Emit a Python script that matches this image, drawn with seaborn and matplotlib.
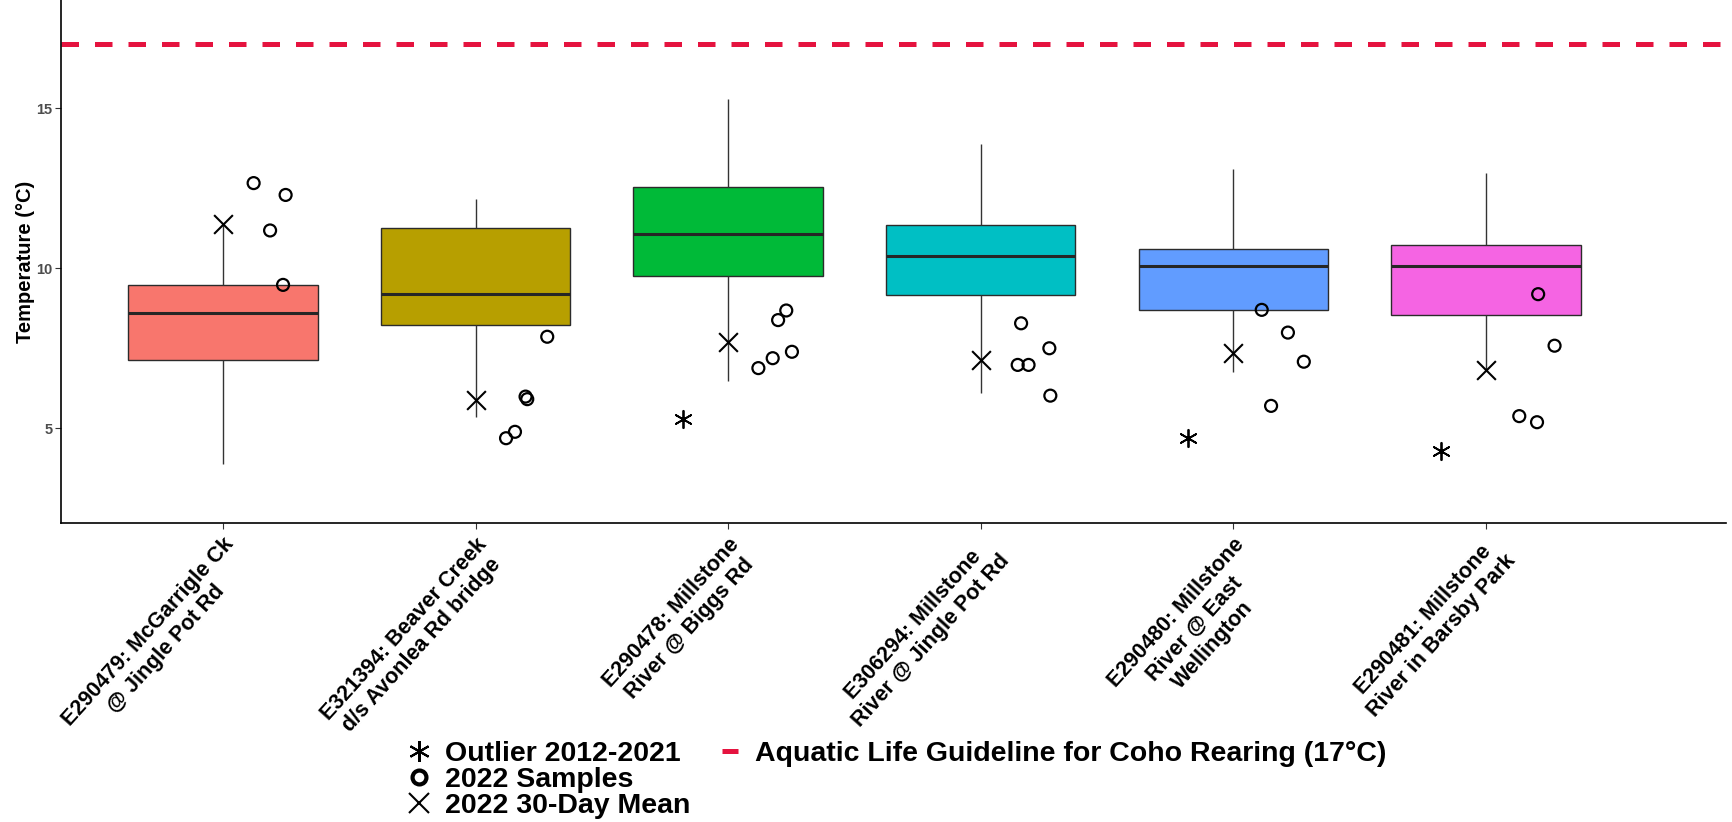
import numpy as np
import pandas as pd
import matplotlib
matplotlib.use("Agg")
import matplotlib.pyplot as plt
import matplotlib.transforms as mtransforms
from matplotlib.lines import Line2D
import seaborn as sns

# site labels (x categories)
sites = [
    "E290479: McGarrigle Ck\n@ Jingle Pot Rd",
    "E321394: Beaver Creek\nd/s Avonlea Rd bridge",
    "E290478: Millstone\nRiver @ Biggs Rd",
    "E306294: Millstone\nRiver @ Jingle Pot Rd",
    "E290480: Millstone\nRiver @ East\nWellington",
    "E290481: Millstone\nRiver in Barsby Park",
]
box_colors = ["#F8766D", "#B79F00", "#00BA38", "#00BFC4", "#619CFF", "#F564E3"]

# 2012-2021 summary (whisker low, Q1, median, Q3, whisker high)
whisk_lo = [3.9, 5.36, 6.48, 6.09, 6.77, 6.82]
q1 = [7.13, 8.23, 9.76, 9.17, 8.70, 8.53]
median = [8.59, 9.19, 11.07, 10.38, 10.07, 10.07]
q3 = [9.48, 11.27, 12.55, 11.35, 10.60, 10.73]
whisk_hi = [11.40, 12.16, 15.28, 13.88, 13.09, 12.99]

# outliers 2012-2021
outlier_site = [2, 4, 5]
outlier_temp = [5.28, 4.69, 4.30]

# 2022 30-day mean
mean_2022 = [11.37, 5.88, 7.71, 7.13, 7.36, 6.82]

# 2022 samples
sample_site = [0, 0, 0, 0,
               1, 1, 1, 1, 1,
               2, 2, 2, 2, 2,
               3, 3, 3, 3, 3,
               4, 4, 4, 4,
               5, 5, 5, 5]
sample_temp = [12.66, 12.29, 11.18, 9.48,
               7.86, 5.91, 5.99, 4.69, 4.89,
               8.38, 8.68, 7.39, 7.19, 6.88,
               8.28, 7.50, 6.98, 6.98, 6.02,
               8.70, 7.99, 7.08, 5.70,
               9.19, 7.58, 5.38, 5.19]

guideline = 17

# long-form frame whose quartiles reproduce the summary
box_df = pd.DataFrame({
    "site": np.repeat(sites, 5),
    "temp": np.column_stack([whisk_lo, q1, median, q3, whisk_hi]).ravel(),
})
samples_df = pd.DataFrame({"site": [sites[i] for i in sample_site], "temp": sample_temp})
out_df = pd.DataFrame({"site": [sites[i] for i in outlier_site], "temp": outlier_temp})
mean_df = pd.DataFrame({"site": sites, "temp": mean_2022})

sns.set_style("ticks")
plt.rcParams["font.family"] = ["Liberation Sans", "DejaVu Sans"]
plt.rcParams["font.weight"] = "bold"
plt.rcParams["text.color"] = "black"
plt.rcParams["axes.labelcolor"] = "black"

fig = plt.figure(figsize=(17.32, 8.22), dpi=100)
ax = fig.add_axes([0.0352, 0.3637, 0.9613, 0.6363])

sns.boxplot(data=box_df, x="site", y="temp", hue="site", order=sites, hue_order=sites,
            palette=box_colors, saturation=1, whis=(0, 100), width=0.75,
            showfliers=False, linecolor="#2b2b2b", linewidth=1.0,
            medianprops={"color": "#262626", "linewidth": 2.2},
            whiskerprops={"color": "#333333", "linewidth": 1.0},
            capprops={"linewidth": 0}, legend=False, ax=ax)

ax.axhline(guideline, color="#E5133F", lw=3.6, dashes=(3.5, 3.2), zorder=1)

np.random.seed(7)
n0 = len(ax.collections)
sns.stripplot(data=samples_df, x="site", y="temp", order=sites, jitter=0.09,
              marker="o", size=8.6, color="white", edgecolor="black",
              linewidth=1.6, ax=ax, zorder=4)
circles = ax.collections[n0:]
n1 = len(ax.collections)
sns.stripplot(data=out_df, x="site", y="temp", order=sites, jitter=False,
              marker=(6, 2, 0), size=12.5, color="black", linewidth=1.3, ax=ax, zorder=4)
stars = ax.collections[n1:]
sns.stripplot(data=mean_df, x="site", y="temp", order=sites, jitter=False,
              marker="x", size=13.5, color="black", linewidth=1.5, ax=ax, zorder=5)

# samples sit right of the box centre, outliers left of it
shift_c = ax.transData + mtransforms.ScaledTranslation(0.50, 0, fig.dpi_scale_trans)
shift_s = ax.transData + mtransforms.ScaledTranslation(-0.45, 0, fig.dpi_scale_trans)
for c in circles:
    c.set_facecolor("none")
    c.set_edgecolor("black")
    c.set_offset_transform(shift_c)
for c in stars:
    c.set_edgecolor("black")
    c.set_offset_transform(shift_s)

ax.set_xlim(-0.641, 5.95)
ax.set_ylim(2.04, 18.38)
ax.set_yticks([5, 10, 15])
ax.set_xlabel("")
ax.set_ylabel("Temperature (°C)", fontsize=14.5, fontweight="bold", labelpad=1, color="black")
ax.tick_params(axis="y", labelsize=10.5, labelcolor="#4D4D4D", length=4, width=0.8,
               color="#333333", pad=2)
ax.tick_params(axis="x", length=4, width=0.8, color="#333333", pad=4)
ax.set_xticks(range(len(sites)))
ax.set_xticklabels(sites, rotation=48, ha="right", va="top", rotation_mode="anchor",
                   multialignment="center", fontsize=15.5, fontweight="bold", color="black")
for lab in ax.get_yticklabels():
    lab.set_fontweight("bold")
sns.despine(ax=ax)
for s in ["left", "bottom"]:
    ax.spines[s].set_linewidth(1.2)
    ax.spines[s].set_color("black")

handles = [
    Line2D([], [], ls="none", marker=(6, 2, 0), ms=15, mew=1.5, color="black"),
    Line2D([], [], ls="none", marker="o", ms=10, mew=3, mfc="none", mec="black"),
    Line2D([], [], ls="none", marker="x", ms=15, mew=1.5, color="black"),
    Line2D([], [], ls="none", marker="_", ms=11, mew=3.6, color="#E5133F"),
    Line2D([], [], ls="none"),
    Line2D([], [], ls="none"),
]
labels = ["Outlier 2012-2021", "2022 Samples", "2022 30-Day Mean",
          "Aquatic Life Guideline for Coho Rearing (17°C)", "", ""]
leg = fig.legend(handles, labels, ncol=2, loc="upper left", bbox_to_anchor=(0.2337, 0.099),
                 frameon=False, borderpad=0, borderaxespad=0, handlelength=1.0,
                 handletextpad=0.4, columnspacing=0.9, labelspacing=0.0,
                 prop={"size": 20.5, "weight": "bold"})
for t in leg.get_texts():
    t.set_color("black")

fig.savefig("out.png", dpi=100)
